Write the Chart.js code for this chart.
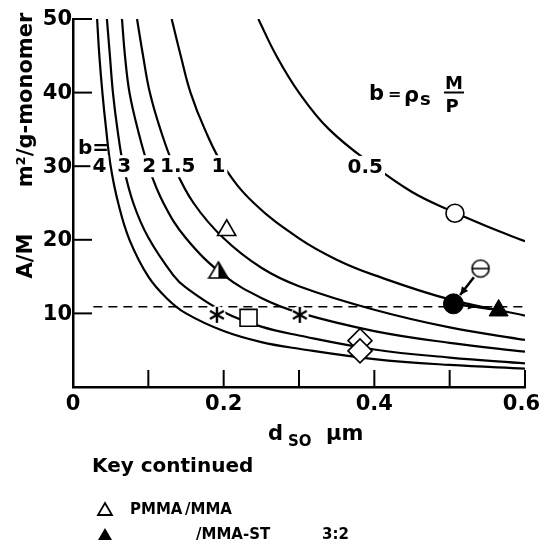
<!DOCTYPE html>
<html>
<head>
<meta charset="utf-8">
<script src="https://cdn.jsdelivr.net/npm/chart.js@4.4.1/dist/chart.umd.min.js"></script>
<style>
html, body { margin: 0; padding: 0; background: #fff; }
canvas { display: block; }
</style>
</head>
<body>
<canvas id="chart" width="540" height="546"></canvas>
<script>
// curves of A/M against d_so, one per value of b
const curveB4  = [[0.032, 50], [0.035, 45], [0.039, 40], [0.044, 35], [0.05, 30], [0.06, 25], [0.075, 20], [0.1, 15], [0.125, 12], [0.15, 10], [0.2, 7.6], [0.25, 6.1], [0.3, 5.2], [0.4, 3.8], [0.5, 3.0], [0.6, 2.5]];
const curveB3  = [[0.045, 50], [0.049, 45], [0.053, 40], [0.059, 35], [0.067, 30], [0.08, 25], [0.1, 20.3], [0.133, 15.2], [0.15, 13.5], [0.2, 10.2], [0.25, 8.2], [0.3, 7.0], [0.4, 5.1], [0.5, 4.0], [0.6, 3.2]];
const curveB2  = [[0.065, 50], [0.069, 45], [0.075, 40], [0.086, 35], [0.1, 30], [0.12, 25], [0.15, 20.2], [0.2, 15.2], [0.25, 12.1], [0.3, 10.1], [0.4, 7.6], [0.5, 6.0], [0.6, 4.8]];
const curveB15 = [[0.085, 50], [0.093, 45], [0.102, 40], [0.116, 35], [0.134, 30], [0.16, 25], [0.2, 20.2], [0.25, 16.2], [0.3, 13.7], [0.4, 10.5], [0.5, 8.1], [0.6, 6.4]];
const curveB1  = [[0.131, 50], [0.143, 45], [0.156, 40], [0.175, 35], [0.2, 30], [0.24, 25], [0.3, 20.2], [0.35, 17.3], [0.4, 15.2], [0.5, 11.9], [0.6, 9.7]];
const curveB05 = [[0.246, 50], [0.27, 45], [0.3, 40], [0.34, 35], [0.4, 30], [0.45, 26.5], [0.5, 24], [0.55, 21.8], [0.6, 19.8]];

// where each curve is labelled, and the label
const curveLabels = ["4", "3", "2", "1.5", "1", "0.5"];
const curveLabelX = [0.035, 0.068, 0.101, 0.139, 0.193, 0.388];
const curveLabelY = [30, 30, 30, 30, 30, 29.9];

// experimental points
const pmmaMma    = [{x: 0.204, y: 21.3}];
const pmmaMmaSt  = [{x: 0.193, y: 15.9}];
const stars      = [{x: 0.191, y: 9.8}, {x: 0.301, y: 9.8}];
const squares    = [{x: 0.233, y: 9.4}];
const diamonds   = [{x: 0.381, y: 6.3}, {x: 0.381, y: 4.9}];
const openCircle = [{x: 0.507, y: 23.6}];
const barCircle  = [{x: 0.541, y: 16.1}];
const fullCircle = [{x: 0.505, y: 11.3}];
const fullTri    = [{x: 0.565, y: 10.4}];

// dashed reference level
const dashLevel = 10.9;
const dashFromX = 0.027;

// axes
const xTicks = [0.1, 0.2, 0.3, 0.4, 0.5, 0.6];
const xTickValues = [0, 0.2, 0.4, 0.6];
const xTickLabels = ["0", "0.2", "0.4", "0.6"];
const yTicks = [10, 20, 30, 40, 50];
const yTickLabels = ["10", "20", "30", "40", "50"];

const FONT = '"DejaVu Sans", sans-serif';

function pts(arr) {
    return arr.map(p => ({x: p[0], y: p[1]}));
}

function curve(arr) {
    return {
        data: pts(arr),
        showLine: true,
        borderColor: "#000",
        borderWidth: 2.2,
        pointRadius: 0,
        tension: 0.4,
        order: 10
    };
}

// half filled triangle
const halfTri = document.createElement("canvas");
halfTri.width = 22; halfTri.height = 20;
(function () {
    const c = halfTri.getContext("2d");
    c.beginPath();
    c.moveTo(11, 2); c.lineTo(20.5, 18); c.lineTo(1.5, 18); c.closePath();
    c.fillStyle = "#fff"; c.fill();
    c.save(); c.clip();
    c.fillStyle = "#000"; c.fillRect(11, 0, 12, 20);
    c.restore();
    c.lineWidth = 1.6; c.strokeStyle = "#000"; c.stroke();
})();

// circle with a bar across
const barCirc = document.createElement("canvas");
barCirc.width = 22; barCirc.height = 22;
(function () {
    const c = barCirc.getContext("2d");
    c.beginPath(); c.arc(11, 11, 8.5, 0, Math.PI * 2);
    c.fillStyle = "#fff"; c.fill();
    c.lineWidth = 1.6; c.strokeStyle = "#000"; c.stroke();
    c.beginPath(); c.moveTo(2.5, 11); c.lineTo(19.5, 11); c.stroke();
})();

// six armed asterisk
const aster = document.createElement("canvas");
aster.width = 20; aster.height = 20;
(function () {
    const c = aster.getContext("2d");
    c.strokeStyle = "#000"; c.lineWidth = 2.4; c.lineCap = "butt";
    [90, 30, -30].forEach(deg => {
        const r = deg * Math.PI / 180;
        const dx = Math.cos(r) * 8, dy = Math.sin(r) * 8;
        c.beginPath(); c.moveTo(10 - dx, 10 - dy); c.lineTo(10 + dx, 10 + dy); c.stroke();
    });
})();

function arrow(ctx, x1, y1, x2, y2, head) {
    const a = Math.atan2(y2 - y1, x2 - x1);
    ctx.beginPath(); ctx.moveTo(x1, y1); ctx.lineTo(x2, y2); ctx.stroke();
    ctx.beginPath();
    ctx.moveTo(x2, y2);
    ctx.lineTo(x2 - head * Math.cos(a - 0.45), y2 - head * Math.sin(a - 0.45));
    ctx.lineTo(x2 - head * Math.cos(a + 0.45), y2 - head * Math.sin(a + 0.45));
    ctx.closePath(); ctx.fill();
}

const decor = {
    id: "decor",
    beforeDatasetsDraw(chart) {
        const ctx = chart.ctx;
        const xs = chart.scales.x, ys = chart.scales.y;
        const a = chart.chartArea;
        ctx.save();
        ctx.strokeStyle = "#000";
        ctx.lineWidth = 2;
        // inside tick marks
        xTicks.forEach(v => {
            const px = xs.getPixelForValue(v);
            ctx.beginPath(); ctx.moveTo(px, a.bottom); ctx.lineTo(px, a.bottom - 17); ctx.stroke();
        });
        yTicks.forEach(v => {
            const py = ys.getPixelForValue(v);
            ctx.beginPath(); ctx.moveTo(a.left, py); ctx.lineTo(a.left + 19, py); ctx.stroke();
        });
        ctx.restore();
    },
    afterDatasetsDraw(chart) {
        const ctx = chart.ctx;
        const xs = chart.scales.x, ys = chart.scales.y;
        const a = chart.chartArea;
        ctx.save();
        ctx.fillStyle = "#000";
        ctx.strokeStyle = "#000";
        ctx.textBaseline = "middle";

        // tick labels
        ctx.font = "bold 21px " + FONT;
        ctx.textAlign = "center";
        xTickValues.forEach((v, i) => {
            let px = xs.getPixelForValue(v);
            const w = ctx.measureText(xTickLabels[i]).width;
            px = Math.min(px, 540 - w / 2);
            ctx.fillText(xTickLabels[i], px, a.bottom + 18);
        });
        ctx.textAlign = "right";
        yTicks.forEach((v, i) => {
            ctx.fillText(yTickLabels[i], a.left - 1, ys.getPixelForValue(v) + 1);
        });

        // curve labels cut into the curves
        ctx.textAlign = "center";
        curveLabels.forEach((s, i) => {
            ctx.font = "bold 20px " + FONT;
            const px = xs.getPixelForValue(curveLabelX[i]);
            const py = ys.getPixelForValue(curveLabelY[i]);
            const w = ctx.measureText(s).width;
            ctx.fillStyle = "#fff";
            ctx.fillRect(px - w / 2 - 2, py - 11, w + 4, 22);
            ctx.fillStyle = "#000";
            ctx.fillText(s, px, py + 1);
        });
        ctx.font = "bold 20px " + FONT;
        ctx.textAlign = "left";
        ctx.fillText("b=", 78, 149);

        // formula b = rho_s M/P
        ctx.textBaseline = "alphabetic";
        ctx.font = "bold 21px " + FONT;
        ctx.fillText("b", 369, 100);
        ctx.font = "bold 16px " + FONT;
        ctx.fillText("=", 388, 99);
        ctx.font = "bold 21px " + FONT;
        ctx.fillText("ρ", 404, 102);
        ctx.font = "bold 18px " + FONT;
        ctx.fillText("s", 420, 105);
        ctx.textAlign = "center";
        ctx.font = "bold 18px " + FONT;
        ctx.fillText("M", 454, 89);
        ctx.fillText("P", 452, 112);
        ctx.lineWidth = 2;
        ctx.beginPath(); ctx.moveTo(444, 92.5); ctx.lineTo(464, 92.5); ctx.stroke();

        // arrows
        const m = {x: xs.getPixelForValue(barCircle[0].x), y: ys.getPixelForValue(barCircle[0].y)};
        const f = {x: xs.getPixelForValue(fullCircle[0].x), y: ys.getPixelForValue(fullCircle[0].y)};
        const t = {x: xs.getPixelForValue(fullTri[0].x), y: ys.getPixelForValue(fullTri[0].y)};
        let dx = f.x - m.x, dy = f.y - m.y, d = Math.hypot(dx, dy);
        ctx.lineWidth = 2.5;
        arrow(ctx, m.x + dx / d * 11, m.y + dy / d * 11, f.x - dx / d * 11, f.y - dy / d * 11, 9);
        dx = t.x - f.x; dy = t.y - f.y; d = Math.hypot(dx, dy);
        ctx.lineWidth = 2;
        ctx.beginPath(); ctx.moveTo(f.x, f.y); ctx.lineTo(t.x - dx / d * 8, t.y - dy / d * 8); ctx.stroke();
        arrow(ctx, f.x, f.y, f.x + dx / d * 22, f.y + dy / d * 22, 8);

        // axis titles
        ctx.textAlign = "left";
        ctx.textBaseline = "alphabetic";
        ctx.font = "bold 21px " + FONT;
        ctx.fillText("d", 268, 440);
        ctx.font = "bold 15px " + FONT;
        ctx.fillText("SO", 288, 446);
        ctx.font = "bold 21px " + FONT;
        ctx.fillText("μm", 326, 440);

        ctx.save();
        ctx.translate(32, 0);
        ctx.rotate(-Math.PI / 2);
        ctx.textAlign = "center";
        ctx.font = "bold 21px " + FONT;
        ctx.fillText("A/M", -256, 0);
        ctx.fillText("m²/g-monomer", -100, 0);
        ctx.restore();

        // key
        ctx.textAlign = "left";
        ctx.textBaseline = "middle";
        ctx.font = "bold 20px " + FONT;
        ctx.fillText("Key continued", 92, 467);
        ctx.font = "bold 15px " + FONT;
        ctx.fillText("PMMA", 130, 510);
        ctx.fillText("/MMA", 185, 510);
        ctx.fillText("/MMA-ST", 196, 535);
        ctx.fillText("3:2", 322, 535);
        ctx.lineWidth = 1.8;
        ctx.beginPath(); ctx.moveTo(105, 503); ctx.lineTo(112, 515); ctx.lineTo(98, 515); ctx.closePath(); ctx.stroke();
        ctx.beginPath(); ctx.moveTo(105, 528); ctx.lineTo(112, 540); ctx.lineTo(98, 540); ctx.closePath(); ctx.fill();
        ctx.restore();
    }
};

new Chart(document.getElementById("chart"), {
    type: "scatter",
    data: {
        datasets: [
            { data: pmmaMma, pointStyle: "triangle", pointRadius: 10.5, backgroundColor: "#fff", borderColor: "#000", borderWidth: 1.6, order: 0 },
            { data: pmmaMmaSt, pointStyle: halfTri, order: 0 },
            { data: stars, pointStyle: aster, order: 0 },
            { data: stars, pointStyle: "circle", pointRadius: 9, backgroundColor: "#fff", borderWidth: 0, order: 5 },
            { data: squares, pointStyle: "rect", pointRadius: 12, backgroundColor: "#fff", borderColor: "#000", borderWidth: 1.6, order: 0 },
            { data: diamonds, pointStyle: "rectRot", pointRadius: 12, backgroundColor: "#fff", borderColor: "#000", borderWidth: 1.6, order: 0 },
            { data: openCircle, pointStyle: "circle", pointRadius: 9, backgroundColor: "#fff", borderColor: "#000", borderWidth: 1.6, order: 0 },
            { data: barCircle, pointStyle: barCirc, order: 0 },
            { data: fullCircle, pointStyle: "circle", pointRadius: 10, backgroundColor: "#000", borderColor: "#000", borderWidth: 1, order: 0 },
            { data: fullTri, pointStyle: "triangle", pointRadius: 11, backgroundColor: "#000", borderColor: "#000", borderWidth: 1, order: 0 },
            {
                data: [{x: dashFromX, y: dashLevel}, {x: 0.6, y: dashLevel}],
                showLine: true, borderColor: "#000", borderWidth: 1.6, borderDash: [9, 6],
                pointRadius: 0, tension: 0, order: 8
            },
            curve(curveB4), curve(curveB3), curve(curveB2),
            curve(curveB15), curve(curveB1), curve(curveB05)
        ]
    },
    options: {
        responsive: false,
        animation: false,
        events: [],
        layout: { padding: { left: 73, top: 19, right: 15, bottom: 159 } },
        plugins: { legend: { display: false }, tooltip: { enabled: false } },
        scales: {
            x: {
                type: "linear", min: 0, max: 0.6,
                ticks: { display: false },
                grid: { drawOnChartArea: false, drawTicks: false },
                border: { display: true, color: "#000", width: 2.5 }
            },
            y: {
                type: "linear", min: 0, max: 50,
                ticks: { display: false },
                grid: { drawOnChartArea: false, drawTicks: false },
                border: { display: true, color: "#000", width: 2.5 }
            }
        }
    },
    plugins: [decor]
});
</script>
</body>
</html>
